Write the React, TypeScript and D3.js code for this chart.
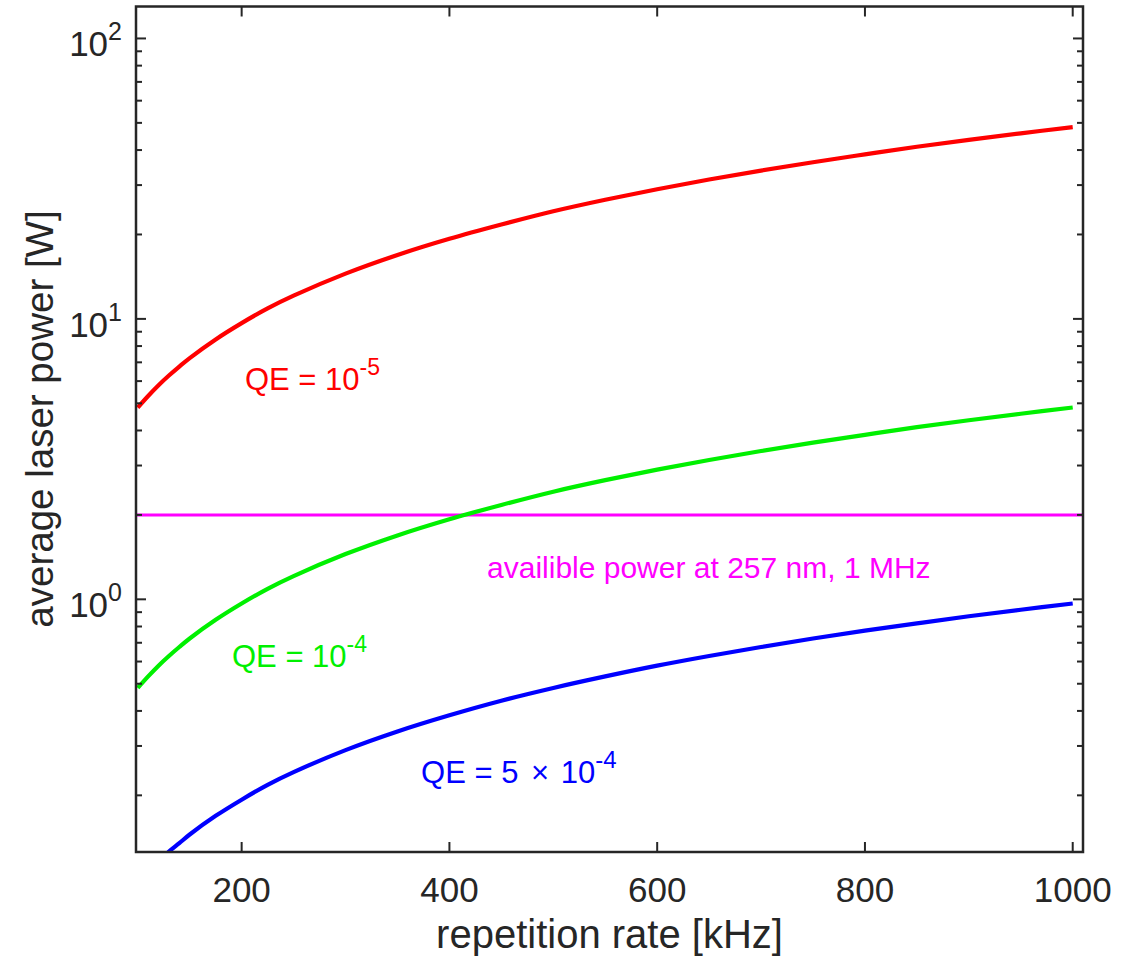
import React from "react";
import * as d3 from "d3";

// repetition rate [kHz]
const repRate = [100, 110, 120, 130, 140, 150, 175, 200, 225, 250, 300, 350, 400, 450, 500, 550, 600, 650, 700, 750, 800, 850, 900, 950, 1000];
// average laser power [W]
const powerQE1e5 = [4.83, 5.31, 5.8, 6.28, 6.76, 7.25, 8.45, 9.66, 10.9, 12.1, 14.5, 16.9, 19.3, 21.7, 24.2, 26.6, 29.0, 31.4, 33.8, 36.2, 38.6, 41.1, 43.5, 45.9, 48.3];
const powerQE1e4 = [0.483, 0.531, 0.58, 0.628, 0.676, 0.725, 0.845, 0.966, 1.09, 1.21, 1.45, 1.69, 1.93, 2.17, 2.42, 2.66, 2.9, 3.14, 3.38, 3.62, 3.86, 4.11, 4.35, 4.59, 4.83];
const powerQE5e4 = [0.0966, 0.106, 0.116, 0.126, 0.135, 0.145, 0.169, 0.193, 0.218, 0.242, 0.29, 0.338, 0.386, 0.435, 0.483, 0.531, 0.58, 0.628, 0.676, 0.725, 0.773, 0.821, 0.87, 0.918, 0.966];
const availablePower = 2;

const xTicks = [200, 400, 600, 800, 1000];
const yMajor = [1, 10, 100];
const yExp = ["0", "1", "2"];

const W = 1140, H = 958;
const L = 136, R = 1083, T = 6.5, B = 852;
const axisColor = "#262626";
const font = "'Liberation Sans', Arial, Helvetica, sans-serif";

export default function App() {
  const x = d3.scaleLinear().domain([98.3, 1009.9]).range([L, R]);
  const y = d3.scaleLog().domain([0.1256, 130]).range([B, T]);

  const line = d3
    .line<number>()
    .x((_, i) => x(repRate[i]))
    .y((d) => y(d))
    .curve(d3.curveCatmullRom.alpha(0.5));

  const minorY: number[] = [];
  [0.1, 1, 10].forEach((dec) => {
    for (let k = 2; k <= 9; k++) {
      const v = dec * k;
      if (v > 0.1256 && v < 130) minorY.push(v);
    }
  });

  const series = [
    { vals: powerQE1e5, color: "#ff0000" },
    { vals: powerQE1e4, color: "#00f000" },
    { vals: powerQE5e4, color: "#0000ff" },
  ];

  return (
    <svg
      width={W}
      height={H}
      style={{ position: "absolute", left: 0, top: 0, background: "#fff" }}
      fontFamily={font}
    >
      <defs>
        <clipPath id="plotclip">
          <rect x={L} y={T} width={R - L} height={B - T} />
        </clipPath>
      </defs>
      <rect x={0} y={0} width={W} height={H} fill="#fff" />

      <g clipPath="url(#plotclip)">
        <line
          x1={L}
          x2={R}
          y1={y(availablePower)}
          y2={y(availablePower)}
          stroke="#ff00ff"
          strokeWidth={3}
        />
        {series.map((s, i) => (
          <path key={i} d={line(s.vals) || ""} fill="none" stroke={s.color} strokeWidth={4.2} />
        ))}
      </g>

      {/* ticks */}
      <g stroke={axisColor} strokeWidth={2}>
        {xTicks.map((t) => (
          <g key={"xt" + t}>
            <line x1={x(t)} x2={x(t)} y1={B} y2={B - 10} />
            <line x1={x(t)} x2={x(t)} y1={T} y2={T + 10} />
          </g>
        ))}
        {yMajor.map((t) => (
          <g key={"ym" + t}>
            <line x1={L} x2={L + 10} y1={y(t)} y2={y(t)} />
            <line x1={R} x2={R - 10} y1={y(t)} y2={y(t)} />
          </g>
        ))}
        {minorY.map((t) => (
          <g key={"yn" + t}>
            <line x1={L} x2={L + 6} y1={y(t)} y2={y(t)} />
            <line x1={R} x2={R - 6} y1={y(t)} y2={y(t)} />
          </g>
        ))}
      </g>

      {/* box */}
      <rect x={L} y={T} width={R - L} height={B - T} fill="none" stroke={axisColor} strokeWidth={2.5} />

      {/* x tick labels */}
      {xTicks.map((t) => (
        <text key={"xl" + t} x={x(t)} y={902} textAnchor="middle" fontSize={35} fill={axisColor}>
          {t}
        </text>
      ))}
      {/* y tick labels */}
      {yMajor.map((t, i) => (
        <text key={"yl" + t} x={122} y={y(t) + 18} textAnchor="end" fontSize={35} fill={axisColor}>
          10
          <tspan fontSize={25} dy={-16}>
            {yExp[i]}
          </tspan>
        </text>
      ))}

      {/* axis labels */}
      <text x={(L + R) / 2} y={948} textAnchor="middle" fontSize={40} fill={axisColor}>
        repetition rate [kHz]
      </text>
      <text
        transform={`translate(53,419) rotate(-90)`}
        textAnchor="middle"
        fontSize={38.5}
        fill={axisColor}
      >
        average laser power [W]
      </text>

      {/* annotations */}
      <text x={x(203.2)} y={y(5.58)} fontSize={31} fill="#ff0000">
        QE = 10<tspan fontSize={23} dy={-15}>-5</tspan>
      </text>
      <text x={x(190.7)} y={y(0.5735)} fontSize={31} fill="#00f000">
        QE = 10<tspan fontSize={23} dy={-15}>-4</tspan>
      </text>
      <text x={x(372.7)} y={y(0.2216)} fontSize={31} fill="#0000ff">
        {"QE = 5 "}
        <tspan dx={4}>×</tspan>
        <tspan dx={3}>{" 10"}</tspan>
        <tspan fontSize={24} dy={-15}>-4</tspan>
      </text>
      <text x={x(436.2)} y={y(1.191)} fontSize={30} fill="#ff00ff">
        availible power at 257 nm, 1 MHz
      </text>
    </svg>
  );
}
